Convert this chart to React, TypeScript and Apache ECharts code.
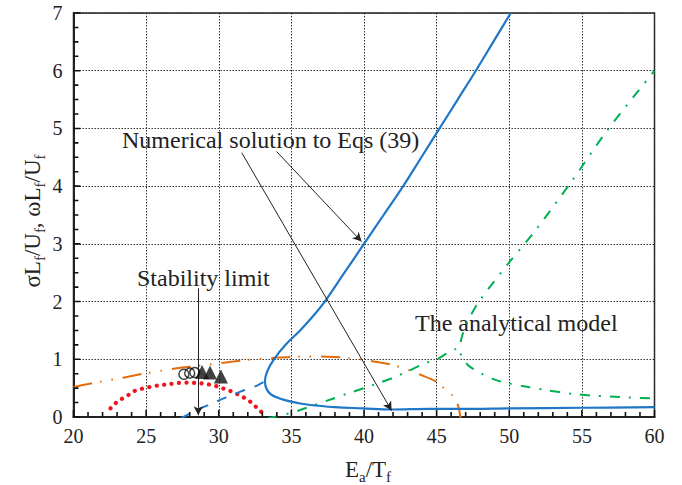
import React, { useEffect, useRef } from "react";
import * as echarts from "echarts";

// ---- data ----
const xTicks = [20, 25, 30, 35, 40, 45, 50, 55, 60];
const yTicks = [0, 1, 2, 3, 4, 5, 6, 7];
const xMinorTicks = [
  21, 22, 23, 24, 26, 27, 28, 29, 31, 32, 33, 34, 36, 37, 38, 39,
  41, 42, 43, 44, 46, 47, 48, 49, 51, 52, 53, 54, 56, 57, 58, 59,
];
const yMinorTicks = [
  0.25, 0.5, 0.75, 1.25, 1.5, 1.75, 2.25, 2.5, 2.75, 3.25, 3.5, 3.75,
  4.25, 4.5, 4.75, 5.25, 5.5, 5.75, 6.25, 6.5, 6.75,
];

// Numerical solution to Eqs (39): upper branch (from top) -> nose -> lower branch
const numericalSolid: [number, number][] = [
  [50.1, 7], [48.9, 6.5], [47.7, 6], [46.45, 5.5], [45.2, 5], [43.95, 4.5], [42.7, 4],
  [41.35, 3.5], [40.0, 3], [38.65, 2.5], [37.3, 2.0], [36.5, 1.75], [35.6, 1.5],
  [34.6, 1.25], [33.8, 1.0], [33.35, 0.8], [33.18, 0.62], [33.3, 0.48], [33.6, 0.39],
  [34.2, 0.32], [34.9, 0.27], [35.7, 0.23], [36.7, 0.2], [38.0, 0.17], [39.9, 0.15],
  [41.9, 0.13], [44.5, 0.14], [47, 0.14], [50, 0.15], [55, 0.16], [60, 0.17],
];
const numericalDashed: [number, number][] = [
  [27.4, -0.02], [28.5, 0.12], [29.5, 0.23], [30.5, 0.34], [31.5, 0.44], [32.5, 0.53], [33.18, 0.62],
];
// Analytical model (orange dash-dot-dot)
const analyticalOrange: [number, number][] = [
  [20, 0.52], [21, 0.57], [22, 0.62], [23, 0.66], [24, 0.71], [25, 0.76], [26, 0.8],
  [27, 0.84], [28, 0.87], [29, 0.9], [30, 0.93], [31, 0.96], [32, 0.99], [33, 1.01],
  [34, 1.03], [35, 1.04], [36, 1.05], [37, 1.05], [38, 1.04], [39, 1.02], [40, 0.99],
  [41, 0.95], [42, 0.9], [43, 0.82], [44, 0.72], [44.9, 0.62], [45.5, 0.5], [46.1, 0.37],
  [46.4, 0.25], [46.55, 0.12], [46.65, -0.02],
];
// Analytical model (green dash-dot): rising branch + upper branch
const analyticalGreenUpper: [number, number][] = [
  [33.4, -0.02], [34.5, 0.04], [35.6, 0.12], [36.6, 0.21], [37.65, 0.3], [38.8, 0.4],
  [40, 0.5], [40.9, 0.58], [42, 0.68], [43, 0.79], [44.1, 0.92], [45, 1.0], [45.7, 1.1],
  [46.25, 1.17], [46.6, 1.22], [46.65, 1.3], [46.75, 1.4], [46.95, 1.55], [47.3, 1.74],
  [48, 2.03], [50, 2.68], [51.7, 3.2], [54.2, 4.05], [56.7, 4.95], [60, 6.0],
];
const analyticalGreenLower: [number, number][] = [
  [46.6, 1.22], [46.62, 1.12], [46.75, 1.04], [47.2, 0.89], [48.1, 0.75], [49.1, 0.64],
  [49.8, 0.59], [51.3, 0.52], [52.45, 0.47], [54.4, 0.4], [55.8, 0.37], [58, 0.34], [60, 0.32],
];
// Stability limit (red dotted)
const stabilityLimit: [number, number][] = [
  [22.55, 0.15], [22.9, 0.24], [23.3, 0.31], [23.77, 0.38], [24.2, 0.45], [24.7, 0.49],
  [25.25, 0.52], [25.8, 0.545], [26.6, 0.57], [27.2, 0.59], [27.8, 0.595], [28.4, 0.59],
  [28.95, 0.58], [29.4, 0.56], [29.9, 0.53], [30.45, 0.48], [30.9, 0.44], [31.4, 0.38],
  [31.85, 0.32], [32.3, 0.24], [32.7, 0.14], [33.0, 0.07], [33.2, 0.0],
];
// Experimental points
const circlePoints: [number, number][] = [[27.6, 0.74], [28.0, 0.76], [28.35, 0.77]];
const trianglePoints: [number, number][] = [[28.85, 0.78], [29.4, 0.77], [30.15, 0.7]];

// Annotation arrows (data coords): [from, to]
const arrowNumUpper: [[number, number], [number, number]] = [[33.98, 4.6], [39.83, 3.04]];
const arrowNumLower: [[number, number], [number, number]] = [[31.58, 4.58], [41.9, 0.11]];
const arrowStability: [[number, number], [number, number]] = [[28.59, 2.23], [28.59, 0.03]];

const FONT = "Liberation Serif";
const TXT = "#222";

export default function App() {
  const ref = useRef<HTMLDivElement>(null);

  useEffect(() => {
    if (!ref.current) return;
    const chart = echarts.init(ref.current, undefined, { renderer: "svg" });

    const arrow = (a: [[number, number], [number, number]]) => [
      { coord: a[0], symbol: "none" },
      { coord: a[1], symbol: "arrow" },
    ];

    const richMain = { fontSize: 23, fontFamily: FONT, fill: TXT, color: TXT, lineHeight: 30, verticalAlign: "middle" };
    const richSub = { fontSize: 15, fontFamily: FONT, fill: TXT, color: TXT, lineHeight: 30, verticalAlign: "bottom" };

    const xMin = xTicks[0];
    const yMin = yTicks[0];
    // inward tick marks as short broken line segments (lengths in axis units ~7px / 5px)
    const xMajLen = 0.12, xMinLen = 0.085; // along y
    const yMajLen = 0.48, yMinLen = 0.34; // along x
    const tickSegs: any[] = [];
    xTicks.forEach((v) => tickSegs.push([v, yMin], [v, yMin + xMajLen], "-"));
    xMinorTicks.forEach((v) => tickSegs.push([v, yMin], [v, yMin + xMinLen], "-"));
    yTicks.forEach((v) => tickSegs.push([xMin, v], [xMin + yMajLen, v], "-"));
    yMinorTicks.forEach((v) => tickSegs.push([xMin, v], [xMin + yMinLen, v], "-"));

    const option: any = {
      animation: false,
      backgroundColor: "#fff",
      textStyle: { fontFamily: FONT },
      grid: {
        left: 73.5,
        right: 27.5,
        top: 13,
        bottom: 68,
        show: true,
        borderColor: "#222",
        borderWidth: 1.5,
        containLabel: false,
        outerBoundsMode: "none",
      },
      xAxis: {
        type: "value",
        min: xTicks[0],
        max: xTicks[xTicks.length - 1],
        interval: 5,
        axisLine: { show: true, onZero: false, lineStyle: { color: "#222", width: 2 } },
        axisTick: { show: false },
        minorTick: { show: false },
        splitLine: { show: true, lineStyle: { color: "#333", type: [1.5, 1.5], width: 1 } },
        axisLabel: { show: true, color: TXT, fontSize: 20, fontFamily: FONT, margin: 9 },
      },
      yAxis: {
        type: "value",
        min: yTicks[0],
        max: yTicks[yTicks.length - 1],
        interval: 1,
        axisLine: { show: true, onZero: false, lineStyle: { color: "#222", width: 2 } },
        axisTick: { show: false },
        minorTick: { show: false },
        splitLine: { show: true, lineStyle: { color: "#333", type: [1.5, 1.5], width: 1 } },
        axisLabel: { show: true, color: TXT, fontSize: 20, fontFamily: FONT, margin: 11 },
      },
      series: [
        {
          name: "ticks",
          type: "line",
          data: tickSegs,
          showSymbol: false,
          connectNulls: false,
          clip: false,
          silent: true,
          z: 10,
          lineStyle: { color: "#111", width: 1.6, type: "solid" },
        },
        {
          name: "red",
          type: "line",
          data: stabilityLimit,
          showSymbol: false,
          smooth: 0.3,
          clip: true,
          lineStyle: { color: "#F0141E", width: 4.2, type: [0.1, 7.4], cap: "round" },
          silent: true,
        },
        {
          name: "orange",
          type: "line",
          data: analyticalOrange,
          showSymbol: false,
          smooth: 0.3,
          clip: true,
          lineStyle: { color: "#E46C0A", width: 2, type: [19, 8, 1.5, 10, 1.5, 10] },
          silent: true,
        },
        {
          name: "greenUpper",
          type: "line",
          data: analyticalGreenUpper,
          showSymbol: false,
          smooth: 0.3,
          clip: true,
          lineStyle: { color: "#00B050", width: 2, type: [10, 9, 2, 9] },
          silent: true,
        },
        {
          name: "greenLower",
          type: "line",
          data: analyticalGreenLower,
          showSymbol: false,
          smooth: 0.3,
          clip: true,
          lineStyle: { color: "#00B050", width: 2, type: [10, 9, 2, 9], dashOffset: 12 },
          silent: true,
        },
        {
          name: "blueDashed",
          type: "line",
          data: numericalDashed,
          showSymbol: false,
          smooth: 0.3,
          clip: true,
          lineStyle: { color: "#1F77C8", width: 2, type: [10, 10] },
          silent: true,
        },
        {
          name: "blueSolid",
          type: "line",
          data: numericalSolid,
          showSymbol: false,
          smooth: 0.35,
          clip: true,
          lineStyle: { color: "#1F77C8", width: 2.2 },
          silent: true,
          markLine: {
            silent: true,
            symbolSize: [7, 9],
            label: { show: false },
            lineStyle: { color: "#222", width: 1, type: "solid" },
            emphasis: { disabled: true },
            data: [arrow(arrowNumUpper), arrow(arrowNumLower), arrow(arrowStability)],
          },
        },
        {
          name: "circles",
          type: "scatter",
          data: circlePoints,
          symbol: "circle",
          symbolSize: 10,
          itemStyle: { color: "rgba(255,255,255,0)", borderColor: "#111", borderWidth: 1.5 },
          silent: true,
          z: 5,
        },
        {
          name: "triangles",
          type: "scatter",
          data: trianglePoints,
          symbol: "triangle",
          symbolSize: 14,
          itemStyle: { color: "#111" },
          silent: true,
          z: 6,
        },
      ],
      graphic: [
        {
          type: "text",
          x: 122,
          y: 140,
          style: { text: "Numerical solution to Eqs (39)", fontSize: 24, fontFamily: FONT, fill: TXT, align: "left", verticalAlign: "middle" },
          silent: true,
        },
        {
          type: "text",
          x: 137,
          y: 278,
          style: { text: "Stability limit", fontSize: 24, fontFamily: FONT, fill: TXT, align: "left", verticalAlign: "middle" },
          silent: true,
        },
        {
          type: "text",
          x: 415,
          y: 323,
          style: { text: "The analytical model", fontSize: 24, fontFamily: FONT, fill: TXT, align: "left", verticalAlign: "middle" },
          silent: true,
        },
        {
          type: "text",
          x: 368,
          y: 469,
          style: {
            text: "{m|E}{s|a}{m|/T}{s|f}",
            rich: { m: richMain, s: richSub },
            align: "center",
            verticalAlign: "middle",
          },
          silent: true,
        },
        {
          type: "text",
          x: 32,
          y: 221,
          rotation: Math.PI / 2,
          style: {
            text: "{m|σL}{s|f}{m|/U}{s|f}{m|, ωL}{s|f}{m|/U}{s|f}",
            rich: { m: richMain, s: richSub },
            align: "center",
            verticalAlign: "middle",
          },
          silent: true,
        },
      ],
    };

    chart.setOption(option);
    return () => chart.dispose();
  }, []);

  return (
    <div
      ref={ref}
      style={{ position: "fixed", left: 0, top: 0, width: 682, height: 485, background: "#fff" }}
    />
  );
}
